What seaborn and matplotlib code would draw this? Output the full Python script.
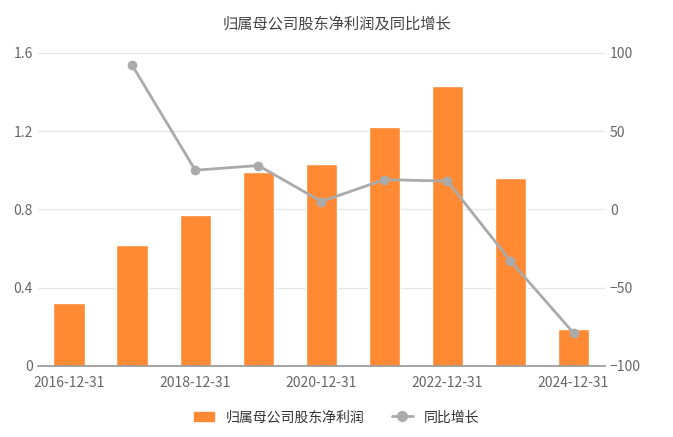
import matplotlib
matplotlib.use("Agg")
import matplotlib.pyplot as plt
import seaborn as sns
import pandas as pd
from matplotlib.lines import Line2D
from matplotlib.patches import Patch

dates = ["2016-12-31","2017-12-31","2018-12-31","2019-12-31","2020-12-31",
         "2021-12-31","2022-12-31","2023-12-31","2024-12-31"]
profit = [0.32, 0.62, 0.77, 0.99, 1.03, 1.22, 1.43, 0.96, 0.19]
growth = [None, 92, 25, 28, 5, 19, 18, -33, -79]

sns.set_theme(style="white")
plt.rcParams['font.family'] = ['Noto Sans CJK SC', 'DejaVu Sans']

df = pd.DataFrame({"date": dates, "profit": profit, "growth": growth})
df["pos"] = range(len(dates))
fig = plt.figure(figsize=(6.73, 4.37), dpi=100)
ax = fig.add_axes([0.056, 0.163, 0.843, 0.716])
sns.barplot(data=df, x="pos", y="profit", color="#FF8A33", width=0.5, ax=ax,
            saturation=1, native_scale=True)
ax.set_xlim(-0.5, 8.5)
ax.set_ylim(0, 1.6)
ax.set_yticks([0, 0.4, 0.8, 1.2, 1.6])
ax.set_yticklabels(["0", "0.4", "0.8", "1.2", "1.6"])
ax.yaxis.grid(True, color="#E6E6E6", lw=1)
ax.set_axisbelow(True)
ax.set_xlabel(""); ax.set_ylabel("")
ax.set_xticks(range(0, 9, 2))
ax.set_xticklabels([dates[i] for i in range(0, 9, 2)])
for s in ["top", "right", "left"]:
    ax.spines[s].set_visible(False)
ax.spines["bottom"].set_color("#999999")
ax.tick_params(axis="both", colors="#666666", labelsize=10, length=0)
ax.tick_params(axis="x", length=4, color="#999999")

ax2 = ax.twinx()
sns.lineplot(data=df.dropna(), x="pos", y="growth", ax=ax2, color="#AAAAAA",
             lw=2, marker="o", markersize=7, markeredgewidth=0)
ax2.set_ylim(-100, 100)
ax2.set_yticks([-100, -50, 0, 50, 100])
ax2.set_xlim(-0.5, 8.5)
ax2.set_ylabel(""); ax2.set_xlabel("")
for s in ax2.spines.values():
    s.set_visible(False)
ax2.tick_params(axis="y", colors="#666666", labelsize=10, length=0)

fig.suptitle("归属母公司股东净利润及同比增长", y=0.965, fontsize=11, color="#444444")
handles = [Patch(color="#FF8A33"),
           Line2D([], [], color="#AAAAAA", lw=2, marker="o", markersize=7)]
fig.legend(handles, ["归属母公司股东净利润", "同比增长"], loc="center",
           bbox_to_anchor=(0.5, 0.045), ncol=2, frameon=False, fontsize=10,
           labelcolor="#333333", handlelength=1.5)
fig.savefig("out.png", dpi=100)
